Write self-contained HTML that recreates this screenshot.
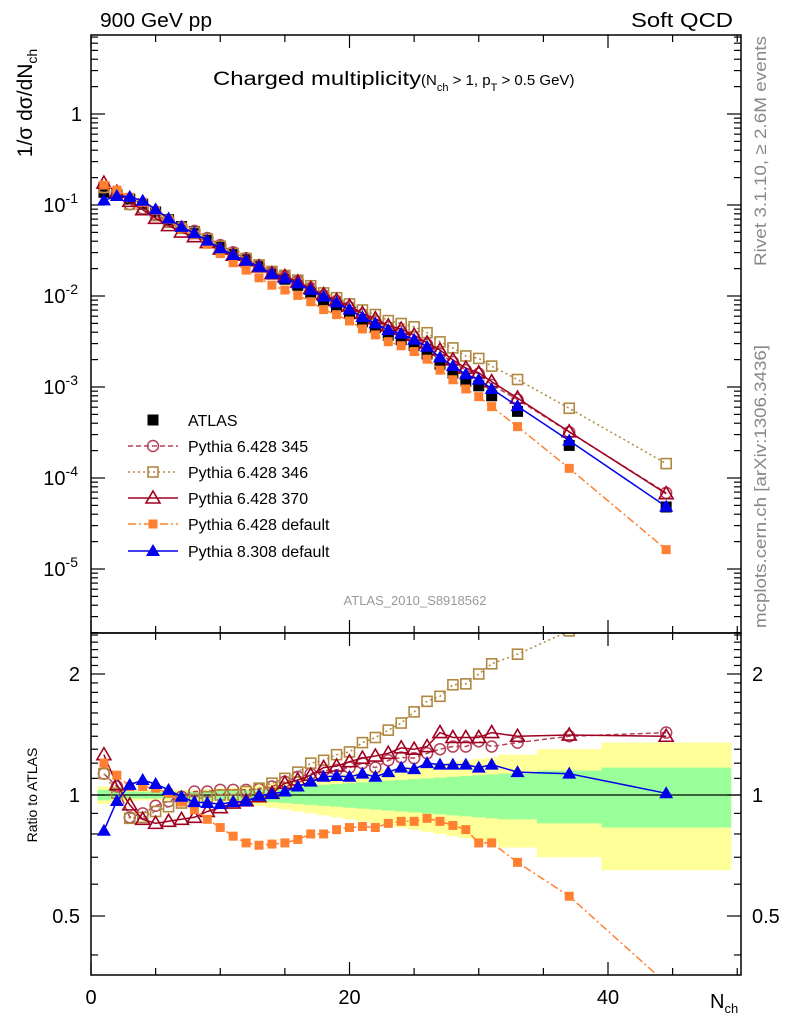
<!DOCTYPE html>
<html><head><meta charset="utf-8"><style>
html,body{margin:0;padding:0;background:#fff}
svg{display:block;font-family:"Liberation Sans",sans-serif}
</style></head><body>
<svg id="chart" width="786" height="1024" viewBox="0 0 786 1024" xmlns="http://www.w3.org/2000/svg">
<defs>
<clipPath id="cm"><rect x="91" y="35" width="650" height="598"/></clipPath>
<clipPath id="cr"><rect x="91" y="633" width="650" height="342"/></clipPath>
</defs>
<g id="bands" clip-path="url(#cr)"></g>
<g id="ticks"></g>
<g id="series"></g>
<rect x="91" y="35" width="650" height="598" fill="none" stroke="#000" stroke-width="1.5"/>
<rect x="91" y="633" width="650" height="342" fill="none" stroke="#000" stroke-width="1.5"/>
<text x="100" y="27" font-size="20" textLength="112" lengthAdjust="spacingAndGlyphs">900 GeV pp</text>
<text x="733" y="27" font-size="20" text-anchor="end" textLength="102" lengthAdjust="spacingAndGlyphs">Soft QCD</text>
<text x="213" y="85" font-size="19"><tspan textLength="208" lengthAdjust="spacingAndGlyphs">Charged multiplicity</tspan><tspan font-size="15">(N</tspan><tspan font-size="11" dy="6">ch</tspan><tspan font-size="15" dy="-6"> &gt; 1, p</tspan><tspan font-size="11" dy="6">T</tspan><tspan font-size="15" dy="-6"> &gt; 0.5 GeV)</tspan></text>
<text transform="translate(32,103) rotate(-90)" font-size="21" text-anchor="middle">1/σ dσ/dN<tspan font-size="14" dy="5">ch</tspan></text>
<text transform="translate(37,795) rotate(-90)" font-size="14" text-anchor="middle">Ratio to ATLAS</text>
<text transform="translate(766,266) rotate(-90)" font-size="17" fill="#888" textLength="230" lengthAdjust="spacingAndGlyphs">Rivet 3.1.10, ≥ 2.6M events</text>
<text transform="translate(766,628) rotate(-90)" font-size="17" fill="#888" textLength="283" lengthAdjust="spacingAndGlyphs">mcplots.cern.ch [arXiv:1306.3436]</text>
<text x="415" y="605" font-size="13" fill="#999" text-anchor="middle">ATLAS_2010_S8918562</text>
<text x="710" y="1008" font-size="20">N<tspan font-size="13" dy="5">ch</tspan></text>
<g id="legend"></g>
</svg>
<script>
const nch = [1,2,3,4,5,6,7,8,9,10,11,12,13,14,15,16,17,18,19,20,21,22,23,24,25,26,27,28,29,30,31,33,37,44.5];
const binLo = [0.5,1.5,2.5,3.5,4.5,5.5,6.5,7.5,8.5,9.5,10.5,11.5,12.5,13.5,14.5,15.5,16.5,17.5,18.5,19.5,20.5,21.5,22.5,23.5,24.5,25.5,26.5,27.5,28.5,29.5,30.5,31.5,34.5,39.5];
const binHi = [1.5,2.5,3.5,4.5,5.5,6.5,7.5,8.5,9.5,10.5,11.5,12.5,13.5,14.5,15.5,16.5,17.5,18.5,19.5,20.5,21.5,22.5,23.5,24.5,25.5,26.5,27.5,28.5,29.5,30.5,31.5,34.5,39.5,49.5];
const atlas = [0.138,0.130,0.116,0.102,0.084,0.069,0.058,0.051,0.0425,0.0352,0.0294,0.0253,0.0211,0.0174,0.0153,0.0131,0.0108,0.00886,0.0076,0.0064,0.0052,0.0045,0.0037,0.0033,0.00285,0.00231,0.00178,0.00143,0.00116,0.00103,0.0008,0.00054,0.000228,0.000048];
const statErr = [0.03,0.02,0.02,0.02,0.02,0.02,0.02,0.02,0.025,0.025,0.03,0.03,0.035,0.04,0.045,0.05,0.055,0.06,0.065,0.07,0.075,0.08,0.085,0.09,0.095,0.10,0.105,0.11,0.115,0.12,0.125,0.13,0.15,0.17];
const totErr = [0.05,0.04,0.035,0.03,0.03,0.03,0.03,0.03,0.035,0.04,0.045,0.05,0.06,0.07,0.08,0.09,0.10,0.11,0.12,0.13,0.14,0.15,0.16,0.17,0.18,0.19,0.20,0.21,0.22,0.23,0.24,0.26,0.30,0.35];
const r345 = [1.13,1.05,0.88,0.90,0.94,0.965,0.99,1.02,1.02,1.03,1.03,1.03,1.035,1.05,1.08,1.11,1.13,1.15,1.155,1.17,1.20,1.17,1.22,1.24,1.235,1.27,1.30,1.32,1.32,1.36,1.32,1.35,1.40,1.43];
const r346 = [1.13,1.01,0.875,0.88,0.91,0.935,0.955,0.975,0.99,1.0,1.0,1.02,1.04,1.07,1.10,1.14,1.20,1.22,1.26,1.28,1.35,1.39,1.45,1.51,1.61,1.71,1.76,1.88,1.89,2.0,2.12,2.24,2.56,3.0];
const r370 = [1.26,1.06,0.945,0.87,0.85,0.86,0.87,0.88,0.91,0.93,0.955,0.967,0.99,1.01,1.07,1.09,1.12,1.17,1.18,1.21,1.235,1.25,1.27,1.31,1.30,1.32,1.43,1.39,1.39,1.39,1.43,1.40,1.41,1.40];
const rDef6 = [1.20,1.12,1.05,1.05,1.04,1.01,0.96,0.92,0.87,0.83,0.79,0.76,0.75,0.755,0.76,0.775,0.80,0.80,0.82,0.83,0.835,0.83,0.85,0.86,0.86,0.875,0.86,0.84,0.82,0.76,0.76,0.68,0.56,0.34];
const rPy8 = [0.815,0.966,1.06,1.09,1.065,1.03,0.99,0.96,0.955,0.95,0.96,0.965,0.995,1.006,1.02,1.05,1.08,1.11,1.115,1.11,1.13,1.11,1.14,1.17,1.16,1.20,1.19,1.19,1.19,1.17,1.19,1.14,1.13,1.01];
const mainTicks = [0,-1,-2,-3,-4,-5];
const ratioTicks = [2,1,0.5];
const xTicks = [0,20,40];

const NS="http://www.w3.org/2000/svg";
const X0=91, XS=12.925;
const xs = n => X0 + n*XS;
const ym = v => 114 - 91*Math.log10(v);
const yr = r => 795 - 402*Math.log10(r);
function mk(tag, attrs, parent){const e=document.createElementNS(NS,tag);for(const k in attrs)e.setAttribute(k,attrs[k]);parent.appendChild(e);return e;}
const bands=document.getElementById('bands'), ticks=document.getElementById('ticks'), series=document.getElementById('series'), legend=document.getElementById('legend');

for(let i=0;i<nch.length;i++){
  const x1=xs(binLo[i]), x2=xs(binHi[i]);
  const y=mk('rect',{x:x1,y:yr(1+totErr[i]),width:x2-x1+0.5,height:yr(1-totErr[i])-yr(1+totErr[i]),fill:'#ffff99'},bands);
  
  
  const g=mk('rect',{x:x1,y:yr(1+statErr[i]),width:x2-x1+0.5,height:yr(1-statErr[i])-yr(1+statErr[i]),fill:'#99ff99'},bands);
  
  
}
const one=mk('line',{x1:91,x2:741,y1:yr(1),y2:yr(1),stroke:'#000','stroke-width':1.3},bands);



function tick(x1,y1,x2,y2){mk('line',{x1,y1,x2,y2,stroke:'#000','stroke-width':1.2},ticks);}
mainTicks.forEach(p=>{
  const yy=114+91*(-p);
  tick(91,yy,105,yy); tick(741,yy,727,yy);
  const t=mk('text',{x:p===0?82:78,y:yy+7,'font-size':20,'text-anchor':'end'},ticks);
  
  
  if(p===0){t.textContent='1';}
  else{t.textContent='10';const s=mk('tspan',{dy:-9,'font-size':14},t);s.textContent=String(p);}
});
for(let d=-6;d<=0;d++)for(let m=2;m<=9;m++){
  const yy=ym(m*Math.pow(10,d));
  if(yy>35&&yy<633){tick(91,yy,98,yy);tick(741,yy,734,yy);}
}
ratioTicks.forEach(r=>{
  const yy=yr(r);
  tick(91,yy,105,yy);tick(741,yy,727,yy);
  const t=mk('text',{x:80,y:yy+7,'font-size':20,'text-anchor':'end'},ticks);
  
  
  t.textContent=String(r);
  const t2=mk('text',{x:752,y:yy+7,'font-size':20},ticks);
  
  
  t2.textContent=String(r);
});
[0.4,0.6,0.7,0.8,0.9,1.1,1.2,1.3,1.4,1.5,1.6,1.7,1.8,1.9,2.1,2.2,2.3,2.4,2.5].forEach(r=>{
  const yy=yr(r); if(yy>633&&yy<975){tick(91,yy,98,yy);tick(741,yy,734,yy);}
});
for(let n=0;n<=50;n+=5){
  const x=xs(n), major=(n%20===0);
  const L=major?13:7;
  tick(x,975,x,975-L); tick(x,633,x,633-L); tick(x,633,x,633+L); tick(x,35,x,35+L);
}
xTicks.forEach(n=>{
  const t=mk('text',{x:xs(n),y:1004,'font-size':20,'text-anchor':'middle'},ticks);
  
  
  t.textContent=String(n);
});

function marker(kind,x,y,color,g){
  let e;
  if(kind==='sq') e=mk('rect',{x:x-5.5,y:y-5.5,width:11,height:11,fill:color},g);
  else if(kind==='osq') e=mk('rect',{x:x-5,y:y-5,width:10,height:10,fill:'none',stroke:color,'stroke-width':1.6},g);
  else if(kind==='ssq') e=mk('rect',{x:x-4.5,y:y-4.5,width:9,height:9,fill:color},g);
  else if(kind==='circ') e=mk('circle',{cx:x,cy:y,r:5.5,fill:'none',stroke:color,'stroke-width':1.5},g);
  else if(kind==='otri') e=mk('path',{d:`M${x},${y-7}L${x+7},${y+5}L${x-7},${y+5}Z`,fill:'none',stroke:color,'stroke-width':1.6},g);
  else if(kind==='tri') e=mk('path',{d:`M${x},${y-7}L${x+7},${y+5}L${x-7},${y+5}Z`,fill:color},g);
  return e;
}
const mcs=[
  {name:'pythia-6428-345',label:'Pythia 6.428 345',r:r345,color:'#b5425a',kind:'circ',dash:'5,3'},
  {name:'pythia-6428-346',label:'Pythia 6.428 346',r:r346,color:'#b08840',kind:'osq',dash:'2,3'},
  {name:'pythia-6428-370',label:'Pythia 6.428 370',r:r370,color:'#a00020',kind:'otri',dash:''},
  {name:'pythia-6428-default',label:'Pythia 6.428 default',r:rDef6,color:'#ff8030',kind:'ssq',dash:'8,3,2,3'},
  {name:'pythia-8308-default',label:'Pythia 8.308 default',r:rPy8,color:'#0000ee',kind:'tri',dash:''}
];
function drawSeries(panel,clip,yfun,vals,s){
  const g=mk('g',{'clip-path':`url(#${clip})`},series);
  
  
  const d=vals.map((v,i)=>(i?'L':'M')+xs(nch[i]).toFixed(1)+','+yfun(v).toFixed(1)).join('');
  const p=mk('path',{d,fill:'none',stroke:s.color,'stroke-width':1.5},g);
  if(s.dash)p.setAttribute('stroke-dasharray',s.dash);
  vals.forEach((v,i)=>{const m=marker(s.kind,xs(nch[i]),yfun(v),s.color,g);
    
    });
}
const ga=mk('g',{'clip-path':'url(#cm)'},series);


atlas.forEach((v,i)=>{const m=marker('sq',xs(nch[i]),ym(v),'#000',ga);
  
  });
mcs.forEach(s=>{
  drawSeries('main','cm',ym,atlas.map((a,i)=>a*s.r[i]),s);
  drawSeries('ratio','cr',yr,s.r,s);
});

const ly=[420,446,472,498,524,551];
const la=mk('g',{},legend);


marker('sq',153,ly[0],'#000',la);
const lt=mk('text',{x:188,y:ly[0]+6,'font-size':16},la);lt.textContent='ATLAS';
mcs.forEach((s,i)=>{
  const g=mk('g',{},legend);
  
  
  const y=ly[i+1];
  const l=mk('line',{x1:128,x2:178,y1:y,y2:y,stroke:s.color,'stroke-width':1.5},g);
  if(s.dash)l.setAttribute('stroke-dasharray',s.dash);
  marker(s.kind,153,y,s.color,g);
  const t=mk('text',{x:188,y:y+6,'font-size':16},g);t.textContent=s.label;
});
</script>
</body></html>
